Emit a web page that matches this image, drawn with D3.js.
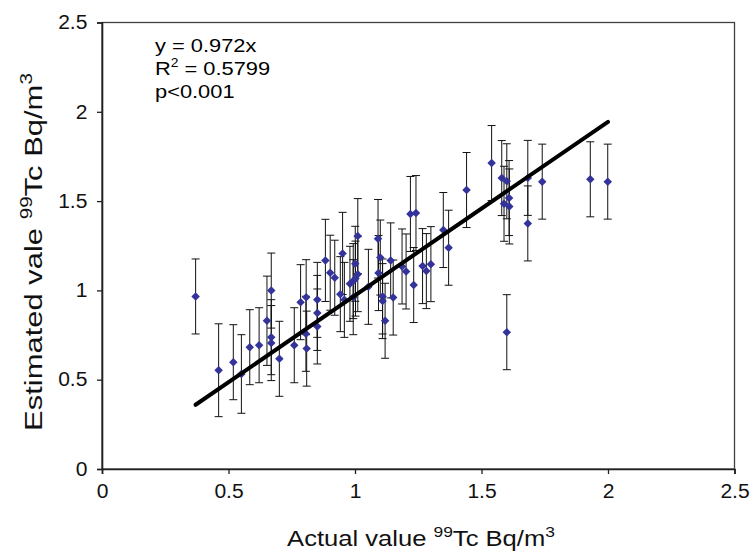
<!DOCTYPE html>
<html>
<head>
<meta charset="utf-8">
<script src="https://cdn.jsdelivr.net/npm/d3@7"></script>
<style>
  html, body { margin: 0; padding: 0; background: #fff; }
  svg { display: block; font-family: "Liberation Sans", Arial, Helvetica, sans-serif; }
</style>
</head>
<body>
<svg id="chart" width="751" height="552"></svg>
<script>
// ---- data ----
const actual = [0.370,0.461,0.519,0.551,0.584,0.621,0.652,0.669,0.669,0.669,0.701,0.760,0.785,0.807,0.806,0.809,
  0.851,0.851,0.851,0.883,0.902,0.920,0.942,0.951,0.958,0.980,0.993,1.002,1.011,1.001,1.011,0.993,1.053,
  1.091,1.100,1.093,1.109,1.109,1.119,1.141,1.151,1.186,1.202,1.219,1.241,1.232,1.267,1.282,1.300,1.349,
  1.370,1.441,1.540,1.580,1.600,1.609,1.589,1.610,1.600,1.683,1.683,1.740,1.930,1.999];
const estimated = [0.966,0.553,0.598,0.532,0.682,0.693,0.830,0.999,0.738,0.705,0.617,0.693,0.934,0.962,0.757,0.674,
  0.947,0.874,0.798,1.168,1.099,1.071,0.979,1.207,0.947,1.037,1.052,1.066,1.091,1.149,1.304,0.962,1.020,
  1.289,1.184,1.097,0.966,0.940,0.830,1.168,0.960,1.134,1.106,1.428,1.433,1.030,1.136,1.108,1.147,1.338,
  1.239,1.562,1.713,1.629,1.611,1.517,1.485,1.470,0.766,1.630,1.375,1.609,1.622,1.609];
const errors = [0.21,0.26,0.21,0.22,0.21,0.21,0.25,0.21,0.21,0.21,0.21,0.21,0.21,0.21,0.21,0.21,
  0.21,0.21,0.21,0.23,0.21,0.21,0.21,0.23,0.21,0.21,0.21,0.21,0.21,0.21,0.21,0.21,0.21,
  0.22,0.21,0.21,0.21,0.21,0.21,0.21,0.21,0.21,0.21,0.21,0.21,0.21,0.21,0.21,0.21,0.21,
  0.21,0.21,0.21,0.21,0.21,0.21,0.21,0.21,0.21,0.21,0.21,0.21,0.21,0.21];
const slope = 0.972;
const fitRange = [0.37, 2.0];
const xTicks = [0, 0.5, 1, 1.5, 2, 2.5];
const yTicks = [0, 0.5, 1, 1.5, 2, 2.5];
const statLines = ["y = 0.972x", "R2 = 0.5799", "p<0.001"];

// ---- layout ----
const svg = d3.select("#chart");
const m = { left: 102, right: 734.5, top: 22.5, bottom: 469 };
const x = d3.scaleLinear().domain([0, 2.5]).range([m.left, m.right]);
const y = d3.scaleLinear().domain([0, 2.5]).range([m.bottom, m.top]);

const pts = actual.map((a, i) => ({ x: a, y: estimated[i], e: errors[i] }));

// plot border
svg.append("rect")
  .attr("x", m.left).attr("y", m.top)
  .attr("width", m.right - m.left).attr("height", m.bottom - m.top)
  .attr("fill", "none").attr("stroke", "#404040").attr("stroke-width", 1.3);

// axes
const fmt = d => d3.format("")(d);
const xAxis = svg.append("g").attr("transform", `translate(0,${m.bottom})`)
  .call(d3.axisBottom(x).tickValues(xTicks).tickFormat(fmt).tickSize(5).tickPadding(10));
const yAxis = svg.append("g").attr("transform", `translate(${m.left},0)`)
  .call(d3.axisLeft(y).tickValues(yTicks).tickFormat(fmt).tickSize(5).tickPadding(9));
[xAxis, yAxis].forEach(g => {
  g.select(".domain").attr("stroke", "#202020").attr("stroke-width", 1.6);
  g.selectAll(".tick line").attr("stroke", "#202020").attr("stroke-width", 1.3);
  g.selectAll(".tick text").attr("fill", "#111").style("font-size", "19.5px")
    .style("font-family", "'Liberation Sans', Arial, sans-serif");
});
xAxis.selectAll(".tick text").attr("transform", "scale(1.08,1)");
yAxis.selectAll(".tick text").attr("transform", "scale(1.08,1)").attr("x", -13.5);

// error bars
const cap = 4;
const eb = svg.append("g").attr("stroke", "#111").attr("stroke-width", 1);
pts.forEach(p => {
  const cx = x(p.x);
  eb.append("line").attr("x1", cx).attr("x2", cx).attr("y1", y(p.y + p.e)).attr("y2", y(p.y - p.e));
  eb.append("line").attr("x1", cx - cap).attr("x2", cx + cap).attr("y1", y(p.y + p.e)).attr("y2", y(p.y + p.e));
  eb.append("line").attr("x1", cx - cap).attr("x2", cx + cap).attr("y1", y(p.y - p.e)).attr("y2", y(p.y - p.e));
});

// diamonds
const diamond = d3.symbol().type(d3.symbolSquare).size(36);
svg.append("g").selectAll("path").data(pts).join("path")
  .attr("d", diamond)
  .attr("transform", d => `translate(${x(d.x)},${y(d.y)}) rotate(45)`)
  .attr("fill", "#333399");

// fit line
svg.append("line")
  .attr("x1", x(fitRange[0])).attr("y1", y(slope * fitRange[0]))
  .attr("x2", x(fitRange[1])).attr("y2", y(slope * fitRange[1]))
  .attr("stroke", "#000").attr("stroke-width", 4).attr("stroke-linecap", "round");

// helper: factor to stretch text along its own direction to a target length
function stretch(g, target) {
  const w = g.node().getBBox().width;
  return target / w;
}

// stats text
const st = svg.append("g").style("font-size", "19px").attr("fill", "#000");
const l1 = st.append("text").attr("x", 0).attr("y", 0).text(statLines[0]);
const r2 = st.append("text").attr("x", 0).attr("y", 23);
r2.append("tspan").text("R");
r2.append("tspan").attr("dy", -8).style("font-size", "12px").text("2");
r2.append("tspan").attr("dy", 8).text(" = 0.5799");
st.append("text").attr("x", 0).attr("y", 46).text(statLines[2]);
const sS = stretch(l1, 102);
st.attr("transform", `translate(155,52) scale(${sS},1)`);

// axis titles
const xt = svg.append("text").attr("text-anchor", "middle")
  .style("font-size", "22px").attr("fill", "#111");
xt.append("tspan").text("Actual value ");
xt.append("tspan").attr("dy", -9).style("font-size", "15px").text("99");
xt.append("tspan").attr("dy", 9).text("Tc Bq/m");
xt.append("tspan").attr("dy", -9).style("font-size", "15px").text("3");
const sx = stretch(xt, 268);
xt.attr("transform", `translate(421,546) scale(${sx},1)`);

const yt = svg.append("text").attr("text-anchor", "middle")
  .style("font-size", "24px").attr("fill", "#111");
yt.append("tspan").text("Estimated vale ");
yt.append("tspan").attr("dy", -10).style("font-size", "16px").text("99");
yt.append("tspan").attr("dy", 10).text("Tc Bq/m");
yt.append("tspan").attr("dy", -10).style("font-size", "16px").text("3");
const sy = stretch(yt, 358);
yt.attr("transform", `translate(42,252) rotate(-90) scale(${sy},1)`);
</script>
</body>
</html>
